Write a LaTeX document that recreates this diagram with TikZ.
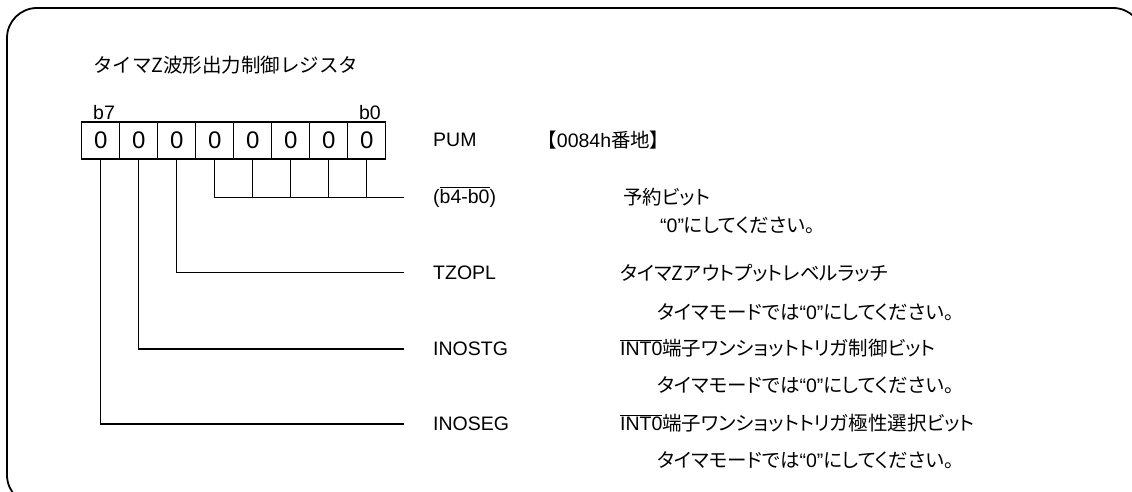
\documentclass[tikz,border=0pt]{standalone}
\usepackage{fontspec}
\setmainfont{Liberation Sans}
\newfontfamily\jp[RawFeature=+palt]{Noto Sans CJK JP}
\newfontfamily\jpfull{Noto Sans CJK JP}
\newcommand{\ovl}[1]{\ensuremath{\overline{\mbox{#1}}}}
\begin{document}
\begin{tikzpicture}[x=1pt,y=-1pt,
  frame/.style={draw, line width=1.8pt, rounded corners=30pt},
  cell/.style={draw, line width=1.5pt, minimum width=38pt, minimum height=37pt, inner sep=0pt, font=\fontsize{24}{24}\selectfont},
  lbl/.style={anchor=west, inner sep=0pt, font=\fontsize{19.5}{19.5}\selectfont},
  bitlbl/.style={inner sep=0pt, font=\fontsize{19.5}{19.5}\selectfont},
  conn/.style={draw, line width=1.5pt}]
\useasboundingbox (0,0) rectangle (1132,492);
\draw[frame] (7,8) rectangle (1143,505);
% title
\node[lbl] (title) at (93,65) {\jpfull タイマZ波形出力制御レジスタ};
% register cells
\foreach \i/\x in {7/100.7,6/138.7,5/176.7,4/214.7,3/252.7,2/290.7,1/328.7,0/366.7}{
  \node[cell] (c\i) at (\x,140.5) {0};
}
\node[bitlbl, anchor=west] (b7) at (93,113) {b7};
\node[bitlbl, anchor=east] (b0) at (381,113) {b0};
% labels
\node[lbl] (pum) at (433,140) {PUM};
\node[lbl] (addr) at (547,140) {{\jp 【}0084h{\jp 番地】}};
\node[lbl] (nres) at (433,197) {(\ovl{b4-b0})};
\node[lbl] (dres) at (623,197) {\jp 予約ビット};
\node[lbl] (dres2) at (660,225) {“0”{\jp にしてください。}};
\node[lbl] (ntz) at (433,273) {TZOPL};
\node[lbl] (dtz) at (620,273) {\jp タイマZアウトプットレベルラッチ};
\node[lbl] (dtz2) at (657,312) {{\jp タイマモードでは}“0”{\jp にしてください。}};
\node[lbl] (nst) at (433,349) {INOSTG};
\node[lbl] (dst) at (620,348) {\ovl{INT0}{\jp 端子ワンショットトリガ制御ビット}};
\node[lbl] (dst2) at (657,385) {{\jp タイマモードでは}“0”{\jp にしてください。}};
\node[lbl] (nse) at (433,424) {INOSEG};
\node[lbl] (dse) at (620,423) {\ovl{INT0}{\jp 端子ワンショットトリガ極性選択ビット}};
\node[lbl] (dse2) at (657,460) {{\jp タイマモードでは}“0”{\jp にしてください。}};
% connector ends
\coordinate (eres) at (404,197.3);
\coordinate (etz) at (404,272.7);
\coordinate (est) at (404,349);
\coordinate (ese) at (404,424);
% connectors
\draw[conn] (c4.south) |- (eres);
\foreach \i in {3,2,1,0}{ \draw[conn] (c\i.south) -- (c\i.south |- eres); }
\draw[conn] (c5.south) |- (etz);
\draw[conn] (c6.south) |- (est);
\draw[conn] (c7.south) |- (ese);
\end{tikzpicture}
\end{document}
